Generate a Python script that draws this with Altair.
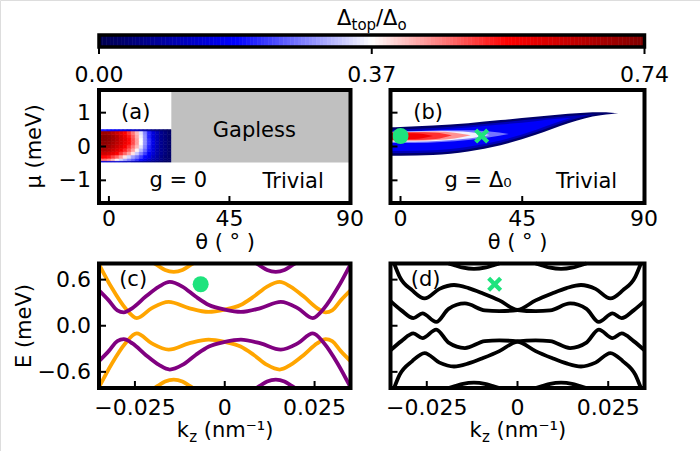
import altair as alt
import numpy as np
import pandas as pd

FONT = "DejaVu Sans"
FS = 21
FS_TICK = 22
MINUS = "\u2212"
GREEN = "#1ee37d"
PURPLE = "#800080"
ORANGE = "#ffa500"

# ---------------- colour map (seismic) shared by maps and colour bar ----------------
CMAP_STOPS = [0.0, 0.185, 0.37, 0.555, 0.74]
CMAP_COLORS = ["#00004d", "#0000ff", "#ffffff", "#ff0000", "#800000"]
CBAR_TICKS = [0.0, 0.37, 0.74]
CBAR_LABELS = ["0.00", "0.37", "0.74"]
CBAR_LEVELS = np.linspace(0.0, 0.74, 149)

# ---------------- panel (a): Delta_top / Delta_0 for g = 0 ----------------
THETA_EDGES_A = [-3.7, -2.2, -0.7, 0.8, 2.3, 3.8, 5.3, 6.8, 8.3, 9.8, 11.3,
                 12.8, 14.3, 15.8, 17.3, 18.8, 20.3, 21.8, 23.3]
MU_EDGES_A = [-0.46, -0.42, -0.35, -0.25, -0.15, -0.05, 0.05, 0.15, 0.25, 0.35, 0.46, 0.50]
GAP_A = [
    [0.15, 0.15, 0.15, 0.14, 0.14, 0.13, 0.12, 0.11, 0.10, 0.09, 0.08, 0.07, 0.06, 0.05, 0.04, 0.03, 0.02, 0.02],
    [0.47, 0.47, 0.45, 0.42, 0.38, 0.34, 0.31, 0.28, 0.25, 0.22, 0.19, 0.16, 0.13, 0.10, 0.08, 0.06, 0.04, 0.03],
    [0.55, 0.55, 0.54, 0.51, 0.48, 0.44, 0.39, 0.34, 0.30, 0.27, 0.23, 0.19, 0.16, 0.12, 0.09, 0.06, 0.04, 0.03],
    [0.62, 0.63, 0.61, 0.59, 0.56, 0.52, 0.48, 0.44, 0.39, 0.33, 0.28, 0.23, 0.18, 0.14, 0.10, 0.07, 0.05, 0.03],
    [0.66, 0.67, 0.66, 0.63, 0.60, 0.57, 0.53, 0.49, 0.44, 0.38, 0.32, 0.26, 0.20, 0.15, 0.10, 0.07, 0.05, 0.03],
    [0.69, 0.70, 0.69, 0.66, 0.63, 0.60, 0.56, 0.52, 0.47, 0.42, 0.35, 0.28, 0.21, 0.15, 0.11, 0.07, 0.05, 0.03],
    [0.71, 0.72, 0.71, 0.68, 0.65, 0.62, 0.58, 0.55, 0.50, 0.44, 0.37, 0.29, 0.22, 0.16, 0.11, 0.07, 0.05, 0.03],
    [0.72, 0.73, 0.72, 0.69, 0.66, 0.62, 0.59, 0.55, 0.50, 0.44, 0.37, 0.29, 0.22, 0.16, 0.11, 0.07, 0.05, 0.03],
    [0.72, 0.73, 0.72, 0.69, 0.66, 0.62, 0.58, 0.54, 0.49, 0.43, 0.36, 0.29, 0.21, 0.15, 0.11, 0.07, 0.05, 0.03],
    [0.69, 0.70, 0.69, 0.66, 0.63, 0.60, 0.56, 0.52, 0.47, 0.42, 0.35, 0.28, 0.21, 0.15, 0.11, 0.07, 0.05, 0.03],
    [0.20, 0.20, 0.19, 0.18, 0.17, 0.16, 0.15, 0.14, 0.13, 0.12, 0.10, 0.09, 0.08, 0.06, 0.05, 0.04, 0.03, 0.02],
]
GAPLESS_THETA = [23.3, 90.2]
GAPLESS_MU = [-0.47, 1.67]

# ---------------- panel (b): g = Delta_0, filled contour levels ----------------
B_LEVEL_VALUES = [0.03, 0.11, 0.18, 0.27, 0.36, 0.45, 0.52, 0.57]
B_LEVEL_THETA = [
    [-3.7, 0, 12, 25, 37, 50, 62, 68, 74, 78, 80.5],
    [-3.7, 0, 12, 25, 37, 50, 62, 68, 72],
    [-3.7, 0, 12, 25, 37, 50, 58, 63],
    [-3.7, 5, 15, 25, 33, 40],
    [-3.7, 5, 15, 23, 29, 33],
    [-3.7, 5, 13, 20, 26],
    [-3.7, 5, 13, 19],
    [-3.7, 5, 12],
]
B_LEVEL_LO = [
    [-0.27, -0.27, -0.25, -0.15, 0.04, 0.35, 0.69, 0.83, 0.92, 0.96, 0.98],
    [-0.20, -0.20, -0.18, -0.08, 0.11, 0.42, 0.76, 0.89, 0.95],
    [-0.13, -0.13, -0.11, -0.01, 0.18, 0.49, 0.72, 0.84],
    [0.10, 0.10, 0.13, 0.19, 0.27, 0.37],
    [0.14, 0.14, 0.17, 0.22, 0.28, 0.34],
    [0.17, 0.17, 0.19, 0.24, 0.33],
    [0.19, 0.19, 0.22, 0.33],
    [0.21, 0.22, 0.31],
]
B_LEVEL_HI = [
    [0.57, 0.58, 0.62, 0.69, 0.78, 0.88, 0.97, 1.00, 1.01, 1.00, 0.98],
    [0.50, 0.51, 0.55, 0.62, 0.71, 0.81, 0.90, 0.93, 0.95],
    [0.44, 0.45, 0.49, 0.56, 0.65, 0.75, 0.82, 0.84],
    [0.44, 0.45, 0.48, 0.48, 0.44, 0.37],
    [0.43, 0.44, 0.46, 0.44, 0.39, 0.34],
    [0.42, 0.43, 0.44, 0.41, 0.33],
    [0.41, 0.42, 0.41, 0.33],
    [0.39, 0.39, 0.31],
]
MARK_B_THETA = [0.0, 30.0]
MARK_B_MU = [0.31, 0.31]

# ---------------- panel (c): spectrum at the circle marker ----------------
C_PURPLE_K = [
    [-0.0350, -0.0323, -0.0299, -0.0281, -0.0257, -0.0220, -0.0183, -0.0153, -0.0118, -0.0081,
     -0.0044, 0.0000, 0.0045, 0.0100, 0.0156, 0.0203, 0.0245, 0.0277, 0.0314, 0.0350],
    [-0.0350, -0.0323, -0.0299, -0.0281, -0.0257, -0.0220, -0.0183, -0.0153, -0.0118, -0.0081,
     -0.0044, 0.0000, 0.0045, 0.0100, 0.0156, 0.0203, 0.0245, 0.0277, 0.0314, 0.0350],
    [0.0088, 0.0100, 0.0118, 0.0142, 0.0166, 0.0184, 0.0196],
    [0.0088, 0.0100, 0.0118, 0.0142, 0.0166, 0.0184, 0.0196],
]
C_PURPLE_E = [
    [0.46, 0.33, 0.20, 0.175, 0.23, 0.38, 0.51, 0.57, 0.51, 0.38,
     0.27, 0.21, 0.18, 0.23, 0.31, 0.23, 0.10, 0.23, 0.49, 0.80],
    [-0.46, -0.33, -0.20, -0.175, -0.23, -0.38, -0.51, -0.57, -0.51, -0.38,
     -0.27, -0.21, -0.18, -0.23, -0.31, -0.23, -0.10, -0.23, -0.49, -0.80],
    [0.81, 0.775, 0.725, 0.70, 0.725, 0.775, 0.81],
    [-0.81, -0.775, -0.725, -0.70, -0.725, -0.775, -0.81],
]
C_ORANGE_K = [
    [-0.0350, -0.0314, -0.0277, -0.0245, -0.0203, -0.0156, -0.0100, -0.0045, 0.0000, 0.0044,
     0.0081, 0.0118, 0.0153, 0.0183, 0.0220, 0.0257, 0.0281, 0.0299, 0.0323, 0.0350],
    [-0.0350, -0.0314, -0.0277, -0.0245, -0.0203, -0.0156, -0.0100, -0.0045, 0.0000, 0.0044,
     0.0081, 0.0118, 0.0153, 0.0183, 0.0220, 0.0257, 0.0281, 0.0299, 0.0323, 0.0350],
    [-0.0196, -0.0184, -0.0166, -0.0142, -0.0118, -0.0100, -0.0088],
    [-0.0196, -0.0184, -0.0166, -0.0142, -0.0118, -0.0100, -0.0088],
]
C_ORANGE_E = [
    [0.80, 0.49, 0.23, 0.10, 0.23, 0.31, 0.23, 0.18, 0.21, 0.27,
     0.38, 0.51, 0.57, 0.51, 0.38, 0.23, 0.175, 0.20, 0.33, 0.46],
    [-0.80, -0.49, -0.23, -0.10, -0.23, -0.31, -0.23, -0.18, -0.21, -0.27,
     -0.38, -0.51, -0.57, -0.51, -0.38, -0.23, -0.175, -0.20, -0.33, -0.46],
    [0.81, 0.775, 0.725, 0.70, 0.725, 0.775, 0.81],
    [-0.81, -0.775, -0.725, -0.70, -0.725, -0.775, -0.81],
]
MARK_C = (-0.0067, 0.54)

# ---------------- panel (d): spectrum at the cross marker ----------------
D_K = [
    [-0.0340, -0.0325, -0.0290, -0.0256, -0.0215, -0.0175, -0.0135, -0.0095, -0.0050, 0.0000,
     0.0050, 0.0090, 0.0145, 0.0190, 0.0224, 0.0262, 0.0287, 0.0320, 0.0350],
    [-0.0350, -0.0320, -0.0287, -0.0262, -0.0224, -0.0190, -0.0145, -0.0090, -0.0050, 0.0000,
     0.0050, 0.0095, 0.0135, 0.0175, 0.0215, 0.0256, 0.0290, 0.0325, 0.0340],
    [-0.0340, -0.0325, -0.0290, -0.0256, -0.0215, -0.0175, -0.0135, -0.0095, -0.0050, 0.0000,
     0.0050, 0.0090, 0.0145, 0.0190, 0.0224, 0.0262, 0.0287, 0.0320, 0.0350],
    [-0.0350, -0.0320, -0.0287, -0.0262, -0.0224, -0.0190, -0.0145, -0.0090, -0.0050, 0.0000,
     0.0050, 0.0095, 0.0135, 0.0175, 0.0215, 0.0256, 0.0290, 0.0325, 0.0340],
    [-0.0190, -0.0172, -0.0150, -0.0120, -0.0090, -0.0068, -0.0050],
    [0.0050, 0.0068, 0.0090, 0.0120, 0.0150, 0.0172, 0.0190],
    [-0.0190, -0.0172, -0.0150, -0.0120, -0.0090, -0.0068, -0.0050],
    [0.0050, 0.0068, 0.0090, 0.0120, 0.0150, 0.0172, 0.0190],
]
D_E = [
    [0.81, 0.64, 0.46, 0.355, 0.48, 0.53, 0.49, 0.42, 0.33, 0.205,
     0.19, 0.20, 0.29, 0.22, 0.05, 0.16, 0.10, 0.20, 0.32],
    [0.32, 0.20, 0.10, 0.16, 0.05, 0.22, 0.29, 0.20, 0.19, 0.205,
     0.33, 0.42, 0.49, 0.53, 0.48, 0.355, 0.46, 0.64, 0.81],
    [-0.81, -0.64, -0.46, -0.355, -0.48, -0.53, -0.49, -0.42, -0.33, -0.205,
     -0.19, -0.20, -0.29, -0.22, -0.05, -0.16, -0.10, -0.20, -0.32],
    [-0.32, -0.20, -0.10, -0.16, -0.05, -0.22, -0.29, -0.20, -0.19, -0.205,
     -0.33, -0.42, -0.49, -0.53, -0.48, -0.355, -0.46, -0.64, -0.81],
    [0.81, 0.785, 0.755, 0.74, 0.755, 0.785, 0.81],
    [0.81, 0.785, 0.755, 0.74, 0.755, 0.785, 0.81],
    [-0.81, -0.785, -0.755, -0.74, -0.755, -0.785, -0.81],
    [-0.81, -0.785, -0.755, -0.74, -0.755, -0.785, -0.81],
]
MARK_D = (-0.0063, 0.54)

THETA_TICKS = [0, 45, 90]
THETA_LABELS = ["0", "45", "90"]
MU_TICKS = [-1, 0, 1]
MU_LABELS = [MINUS + "1", "0", "1"]
KZ_TICKS = [-0.025, 0.0, 0.025]
KZ_LABELS = [MINUS + "0.025", "0", "0.025"]
E_TICKS = [-0.6, 0.0, 0.6]
E_LABELS = [MINUS + "0.6", "0.0", "0.6"]

X_SHAPE = "M-1,-0.6L-0.6,-1L0,-0.4L0.6,-1L1,-0.6L0.4,0L1,0.6L0.6,1L0,0.4L-0.6,1L-1,0.6L-0.4,0Z"


# ---------------- scales: each panel maps its data onto its own pixel box ----------------
def lin(domain, rng):
    return alt.Scale(domain=domain, range=rng, nice=False, zero=False)


BOX_L = (99, 350.5)
BOX_R = (390.5, 644.5)
BOX_TOP = (203, 90)
BOX_BOT = (388, 263.5)

XA = lin([-3.7, 90.2], list(BOX_L))
XB = lin([-3.7, 90.2], list(BOX_R))
YAB = lin([-1.67, 1.67], list(BOX_TOP))
XC = lin([-0.035, 0.035], list(BOX_L))
XD = lin([-0.035, 0.035], list(BOX_R))
YCD = lin([-0.81, 0.81], list(BOX_BOT))
XCB = lin([0.0, 0.74], [99, 644.5])
YCB = lin([0.0, 1.0], [47, 35])
COL = alt.Scale(domain=CMAP_STOPS, range=CMAP_COLORS, interpolate="rgb")

layers = []


def frame(xs, ys, xd, yd, width=4):
    df = pd.DataFrame({"x0": [xd[0]], "x1": [xd[1]], "y0": [yd[0]], "y1": [yd[1]]})
    return alt.Chart(df).mark_rect(fillOpacity=0, stroke="black", strokeWidth=width).encode(
        x=alt.X("x0:Q", scale=xs, axis=None), x2="x1:Q",
        y=alt.Y("y0:Q", scale=ys, axis=None), y2="y1:Q")


def xticks(vals, xs, ybase, length):
    df = pd.DataFrame({"v": vals})
    return alt.Chart(df).mark_rule(color="black", strokeWidth=2).encode(
        x=alt.X("v:Q", scale=xs, axis=None), y=alt.value(ybase), y2=alt.value(ybase + length))


def yticks(vals, ys, xbase, length):
    df = pd.DataFrame({"v": vals})
    return alt.Chart(df).mark_rule(color="black", strokeWidth=2).encode(
        y=alt.Y("v:Q", scale=ys, axis=None), x=alt.value(xbase), x2=alt.value(xbase + length))


def xlabels(vals, labels, xs, ypix):
    df = pd.DataFrame({"v": vals, "t": labels})
    return alt.Chart(df).mark_text(font=FONT, fontSize=FS_TICK, color="black", baseline="middle",
                                   align="center").encode(
        x=alt.X("v:Q", scale=xs, axis=None), y=alt.value(ypix), text="t:N")


def ylabels(vals, labels, ys, xpix):
    df = pd.DataFrame({"v": vals, "t": labels})
    return alt.Chart(df).mark_text(font=FONT, fontSize=FS_TICK, color="black", baseline="middle",
                                   align="right").encode(
        y=alt.Y("v:Q", scale=ys, axis=None), x=alt.value(xpix), text="t:N")


def note(text, x, y, xs, ys, size=FS, align="center"):
    df = pd.DataFrame({"x": [x], "y": [y], "t": [text]})
    return alt.Chart(df).mark_text(font=FONT, fontSize=size, color="black", baseline="middle",
                                   align=align).encode(
        x=alt.X("x:Q", scale=xs, axis=None), y=alt.Y("y:Q", scale=ys, axis=None), text="t:N")


def pixtext(text, x, y, size=FS, align="center", angle=0, baseline="middle"):
    df = pd.DataFrame({"t": [text]})
    mk = dict(font=FONT, fontSize=size, color="black", baseline=baseline, align=align)
    if angle:
        mk["angle"] = angle
    return alt.Chart(df).mark_text(**mk).encode(x=alt.value(x), y=alt.value(y), text="t:N")


def bands(ks, es, xs, ys, color):
    recs = []
    for b, (kk, ee) in enumerate(zip(ks, es)):
        for k, e in zip(kk, ee):
            recs.append({"band": b, "k": k, "E": e})
    return alt.Chart(pd.DataFrame(recs)).mark_line(
        interpolate="monotone", strokeWidth=3.8, color=color).encode(
        x=alt.X("k:Q", scale=xs, axis=None),
        y=alt.Y("E:Q", scale=ys, axis=None),
        detail="band:N")


def marker(x, y, xs, ys, shape, size):
    df = pd.DataFrame({"x": [x], "y": [y]})
    return alt.Chart(df).mark_point(shape=shape, filled=True, size=size, color=GREEN,
                                    opacity=1, strokeWidth=0).encode(
        x=alt.X("x:Q", scale=xs, axis=None), y=alt.Y("y:Q", scale=ys, axis=None))


# ---------------- colour bar ----------------
cb = pd.DataFrame({"c0": CBAR_LEVELS[:-1], "c1": CBAR_LEVELS[1:],
                   "v": (CBAR_LEVELS[:-1] + CBAR_LEVELS[1:]) / 2, "y0": 0.0, "y1": 1.0})
layers.append(alt.Chart(cb).mark_rect(strokeWidth=0.6).encode(
    x=alt.X("c0:Q", scale=XCB, axis=None), x2="c1:Q",
    y=alt.Y("y0:Q", scale=YCB, axis=None), y2="y1:Q",
    color=alt.Color("v:Q", scale=COL, legend=None),
    stroke=alt.Stroke("v:Q", scale=COL, legend=None)))
layers.append(frame(XCB, YCB, (0.0, 0.74), (0.0, 1.0), width=3.5))
layers.append(xticks(CBAR_TICKS, XCB, 47, 7))
layers.append(xlabels(CBAR_TICKS, CBAR_LABELS, XCB, 75))
# colour bar title  Δ_top / Δ_o
layers.append(pixtext("\u0394", 337, 25, align="left", baseline="alphabetic"))
layers.append(pixtext("top", 351.5, 30, size=15, align="left", baseline="alphabetic"))
layers.append(pixtext("/\u0394", 376, 25, align="left", baseline="alphabetic"))
layers.append(pixtext("o", 397.5, 30, size=15, align="left", baseline="alphabetic"))

# ---------------- panel (a) ----------------
recs = []
for i, row in enumerate(GAP_A):
    for j, v in enumerate(row):
        recs.append({"t0": THETA_EDGES_A[j], "t1": THETA_EDGES_A[j + 1],
                     "m0": MU_EDGES_A[i], "m1": MU_EDGES_A[i + 1], "v": v})
layers.append(alt.Chart(pd.DataFrame(recs)).mark_rect(strokeWidth=0.6).encode(
    x=alt.X("t0:Q", scale=XA, axis=None), x2="t1:Q",
    y=alt.Y("m0:Q", scale=YAB, axis=None), y2="m1:Q",
    color=alt.Color("v:Q", scale=COL, legend=None),
    stroke=alt.Stroke("v:Q", scale=COL, legend=None)))
gdf = pd.DataFrame({"t0": [GAPLESS_THETA[0]], "t1": [GAPLESS_THETA[1]],
                    "m0": [GAPLESS_MU[0]], "m1": [GAPLESS_MU[1]]})
layers.append(alt.Chart(gdf).mark_rect(color="#c0c0c0").encode(
    x=alt.X("t0:Q", scale=XA, axis=None), x2="t1:Q",
    y=alt.Y("m0:Q", scale=YAB, axis=None), y2="m1:Q"))
layers.append(xticks(THETA_TICKS, XA, BOX_TOP[0], -7))
layers.append(yticks(MU_TICKS, YAB, BOX_L[0], 7))
layers.append(xlabels(THETA_TICKS, THETA_LABELS, XA, 219))
layers.append(ylabels(MU_TICKS, MU_LABELS, YAB, 91))
layers.append(note("(a)", 10.0, 0.98, XA, YAB))
layers.append(note("Gapless", 54.3, 0.47, XA, YAB))
layers.append(note("g = 0", 25.9, -1.02, XA, YAB))
layers.append(note("Trivial", 68.8, -1.05, XA, YAB))
layers.append(frame(XA, YAB, (-3.7, 90.2), (-1.67, 1.67)))
layers.append(pixtext("\u03bc (meV)", 35, 146.5, angle=270))
layers.append(pixtext("\u03b8 ( \u00b0 )", 225, 243))

# ---------------- panel (b) ----------------
for val, th, lo, hi in zip(B_LEVEL_VALUES, B_LEVEL_THETA, B_LEVEL_LO, B_LEVEL_HI):
    df = pd.DataFrame({"t": th, "lo": lo, "hi": hi, "v": val})
    layers.append(alt.Chart(df).mark_area(interpolate="monotone").encode(
        x=alt.X("t:Q", scale=XB, axis=None),
        y=alt.Y("lo:Q", scale=YAB, axis=None), y2="hi:Q",
        color=alt.Color("v:Q", scale=COL, legend=None)))
layers.append(marker(MARK_B_THETA[0], MARK_B_MU[0], XB, YAB, "circle", 256))
layers.append(marker(MARK_B_THETA[1], MARK_B_MU[1], XB, YAB, X_SHAPE, 225))
layers.append(xticks(THETA_TICKS, XB, BOX_TOP[0], -7))
layers.append(yticks(MU_TICKS, YAB, BOX_R[0], 7))
layers.append(xlabels(THETA_TICKS, THETA_LABELS, XB, 219))
layers.append(note("(b)", 10.2, 0.98, XB, YAB))
layers.append(note("g = \u0394\u2080", 28.7, -1.02, XB, YAB))
layers.append(note("Trivial", 68.8, -1.05, XB, YAB))
layers.append(frame(XB, YAB, (-3.7, 90.2), (-1.67, 1.67)))
layers.append(pixtext("\u03b8 ( \u00b0 )", 517.5, 243))

# ---------------- panel (c) ----------------
layers.append(bands(C_ORANGE_K, C_ORANGE_E, XC, YCD, ORANGE))
layers.append(bands(C_PURPLE_K, C_PURPLE_E, XC, YCD, PURPLE))
layers.append(marker(MARK_C[0], MARK_C[1], XC, YCD, "circle", 256))
layers.append(xticks(KZ_TICKS, XC, BOX_BOT[0], -7))
layers.append(yticks(E_TICKS, YCD, BOX_L[0], 7))
layers.append(xlabels(KZ_TICKS, KZ_LABELS, XC, 408))
layers.append(ylabels(E_TICKS, E_LABELS, YCD, 91))
layers.append(note("(c)", -0.0255, 0.59, XC, YCD))
layers.append(frame(XC, YCD, (-0.035, 0.035), (-0.81, 0.81)))
layers.append(pixtext("E (meV)", 25, 326, angle=270))

# ---------------- panel (d) ----------------
layers.append(bands(D_K, D_E, XD, YCD, "black"))
layers.append(marker(MARK_D[0], MARK_D[1], XD, YCD, X_SHAPE, 225))
layers.append(xticks(KZ_TICKS, XD, BOX_BOT[0], -7))
layers.append(yticks(E_TICKS, YCD, BOX_R[0], 7))
layers.append(xlabels(KZ_TICKS, KZ_LABELS, XD, 408))
layers.append(note("(d)", -0.0253, 0.59, XD, YCD))
layers.append(frame(XD, YCD, (-0.035, 0.035), (-0.81, 0.81)))

# k_z (nm^-1) axis titles
for cx in (224.75, 517.5):
    layers.append(pixtext("k", cx - 48, 437, align="left", baseline="alphabetic"))
    layers.append(pixtext("z", cx - 35.5, 442, size=15, align="left", baseline="alphabetic"))
    layers.append(pixtext("(nm\u207b\u00b9)", cx - 21, 437, align="left", baseline="alphabetic"))

chart = (
    alt.layer(*layers)
    .resolve_scale(x="independent", y="independent", color="independent", stroke="independent")
    .properties(width=700, height=451, padding=0, autosize=alt.AutoSizeParams(type="none"))
    .configure_view(stroke=None)
    .configure(background="white")
)

chart.save("out.html", embed_options={"renderer": "svg", "actions": False})
